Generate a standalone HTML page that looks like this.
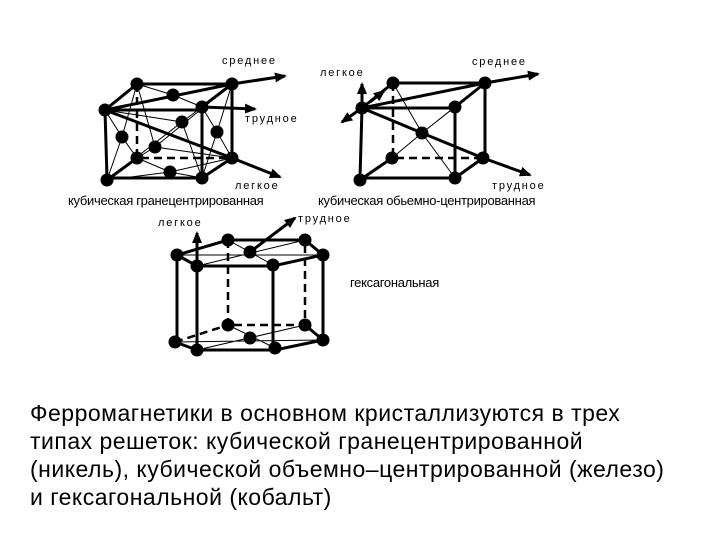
<!DOCTYPE html>
<html><head><meta charset="utf-8"><style>
body{margin:0;background:#fff;width:720px;height:540px;overflow:hidden;position:relative}
svg{position:absolute;left:0;top:0}
.t{font-family:"Liberation Sans",sans-serif;font-size:23px;letter-spacing:0.5px;color:#000;position:absolute;left:30px;top:399px;line-height:28px;white-space:nowrap}
</style></head><body>
<svg width="720" height="540" viewBox="0 0 720 540">
<defs><marker id="a" markerUnits="userSpaceOnUse" markerWidth="12" markerHeight="10" refX="10" refY="5" orient="auto"><path d="M0,0L12,5L0,10z" fill="#000"/></marker></defs>
<g font-family="Liberation Sans,sans-serif" font-size="11" fill="#000" letter-spacing="1.8">
<text x="222" y="64">среднее</text><text x="245" y="122">трудное</text><text x="235" y="189">легкое</text>
<text x="320" y="76">легкое</text><text x="472" y="65">среднее</text><text x="492" y="189">трудное</text>
<text x="158" y="226">легкое</text><text x="298" y="222">трудное</text>
</g>
<g font-family="Liberation Sans,sans-serif" font-size="13" fill="#000" letter-spacing="-0.3">
<text x="68" y="205">кубическая гранецентрированная</text>
<text x="318" y="205">кубическая обьемно-центрированная</text>
<text x="350" y="287">гексагональная</text>
</g>
<g stroke="#000" fill="none">
<g stroke-width="3"><path d="M105,110H202V178H107Z M137,84H232V158 M105,110L137,84 M202,107L232,84 M202,178L232,158 M107,180L137,158"/>
<path d="M105,110L232,158"/><path d="M105,110L232,84"/></g>
<path d="M137,84V158H232" stroke-width="2.5" stroke-dasharray="8,5"/>
<g stroke-width="1"><path d="M105,110L173,95L232,84 M137,84L173,95L202,107 M105,110L182,122L202,178 M202,107L182,122L107,180 M105,110L122,137L107,180 M137,84L122,137L137,158 M202,107L217,132L202,178 M232,84L217,132L232,158 M137,84L155,147L232,158 M137,158L155,147L232,84 M107,180L170,172L232,158 M137,158L170,172L202,178"/></g>
<g stroke-width="3" marker-end="url(#a)"><path d="M232,84L285,76"/><path d="M202,107L255,109"/><path d="M232,158L280,177"/></g>
<g stroke-width="3"><path d="M362,108H455V178H360Z M393,83H485V158 M362,108L393,83 M455,107L485,83 M455,178L483,158 M360,180L392,158 M362,108L485,83 M362,108L422,133L483,158"/></g>
<path d="M393,83V158H483" stroke-width="2.5" stroke-dasharray="8,5"/>
<g stroke-width="1"><path d="M393,83L422,133L455,178 M455,107L422,133L392,158 M485,83L422,133"/></g>
<g stroke-width="3" marker-end="url(#a)"><path d="M362,108L362,84"/><path d="M362,108L342,122"/><path d="M370,102L384,91"/><path d="M485,83L538,74"/><path d="M483,158L530,175"/></g>
<g stroke-width="3"><path d="M177,255L197,266H273L323,255L305,240H228Z M175,342L197,350H275L323,340L305,325 M177,255V342 M197,266V350 M273,265V348 M323,255V340"/></g>
<path d="M228,240V325H305V240 M175,342L228,325" stroke-width="2.5" stroke-dasharray="8,5"/>
<g stroke-width="1"><path d="M177,255L323,255 M228,240L273,265 M305,240L197,266 M175,342L323,340 M228,325L275,348 M305,325L197,350"/></g>
<g stroke-width="3" marker-end="url(#a)"><path d="M250,252L295,218"/><path d="M197,266L197,233"/></g>
</g>
<g fill="#000">
<circle cx="105" cy="110" r="6.5"/><circle cx="137" cy="84" r="6.5"/><circle cx="232" cy="84" r="6.5"/><circle cx="202" cy="107" r="6.5"/><circle cx="107" cy="180" r="6.5"/><circle cx="202" cy="178" r="6.5"/><circle cx="232" cy="158" r="6.5"/><circle cx="137" cy="158" r="6.5"/>
<circle cx="173" cy="95" r="6.5"/><circle cx="182" cy="122" r="6.5"/><circle cx="122" cy="137" r="6.5"/><circle cx="155" cy="147" r="6.5"/><circle cx="217" cy="132" r="6.5"/><circle cx="170" cy="172" r="6.5"/>
<circle cx="362" cy="108" r="6.5"/><circle cx="393" cy="83" r="6.5"/><circle cx="485" cy="83" r="6.5"/><circle cx="455" cy="107" r="6.5"/><circle cx="360" cy="180" r="6.5"/><circle cx="455" cy="178" r="6.5"/><circle cx="483" cy="158" r="6.5"/><circle cx="392" cy="158" r="6.5"/><circle cx="422" cy="133" r="6.5"/>
<circle cx="177" cy="255" r="6.5"/><circle cx="228" cy="240" r="6.5"/><circle cx="305" cy="240" r="6.5"/><circle cx="323" cy="255" r="6.5"/><circle cx="273" cy="265" r="6.5"/><circle cx="197" cy="266" r="6.5"/><circle cx="250" cy="252" r="6.5"/>
<circle cx="175" cy="342" r="6.5"/><circle cx="228" cy="325" r="6.5"/><circle cx="305" cy="325" r="6.5"/><circle cx="323" cy="340" r="6.5"/><circle cx="275" cy="348" r="6.5"/><circle cx="197" cy="350" r="6.5"/><circle cx="250" cy="338" r="6.5"/>
</g>
</svg>
<div class="t">Ферромагнетики в основном кристаллизуются в трех<br>типах решеток: кубической гранецентрированной<br>(никель), кубической объемно–центрированной (железо)<br>и гексагональной (кобальт)</div>
</body></html>
